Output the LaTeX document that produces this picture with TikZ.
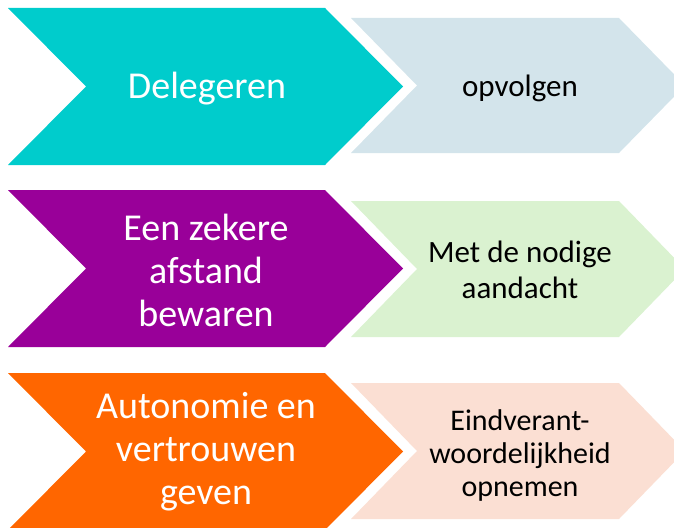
\documentclass[tikz,border=0pt]{standalone}
\usepackage{fontspec}
\setmainfont{Carlito}
\definecolor{cteal}{RGB}{0,204,204}
\definecolor{cpurple}{RGB}{153,0,153}
\definecolor{corange}{RGB}{255,102,0}
\definecolor{lblue}{RGB}{211,228,235}
\definecolor{lgreen}{RGB}{218,242,208}
\definecolor{lpeach}{RGB}{251,223,211}
\newcommand\mychev[6]{% left, top, bottom, depth, corner, colour
  \fill[#6] (#1,#2) -- (#5,#2) -- ({#5+#4},{(#2+#3)/2}) -- (#5,#3) -- (#1,#3) -- ({#1+#4},{(#2+#3)/2}) -- cycle;}
\begin{document}
\begin{tikzpicture}[x=1pt,y=-1pt,
  bigtxt/.style={text=white,align=center,font=\fontsize{38}{43}\selectfont,inner sep=0pt},
  smalltxt/.style={text=black,align=center,font=\fontsize{31}{36}\selectfont,inner sep=0pt}]
\useasboundingbox (0,0) rectangle (674,527);
\clip (0,0) rectangle (674,527);
% row 1
\mychev{8}{8}{165}{78}{325}{cteal}
\mychev{351}{18}{153}{66}{619}{lblue}
\node[bigtxt] (t1) at (207,89) {Delegeren};
\node[smalltxt] (s1) at (520,88) {opvolgen};
% row 2
\mychev{8}{190}{347}{78}{325}{cpurple}
\mychev{351}{201}{337}{66}{619}{lgreen}
\node[bigtxt] (t2) at (206,270) {Een zekere\\afstand\\bewaren};
\node[smalltxt] (s2) at (520,270) {Met de nodige\\aandacht};
% row 3
\mychev{8}{373}{530}{78}{325}{corange}
\mychev{351}{383}{519}{66}{619}{lpeach}
\node[bigtxt] (t3) at (206,452) {Autonomie en\\vertrouwen\\geven};
\node[smalltxt,font=\fontsize{30}{33}\selectfont] (s3) at (520,455) {Eindverant-\\woordelijkheid\\opnemen};
\end{tikzpicture}
\end{document}
